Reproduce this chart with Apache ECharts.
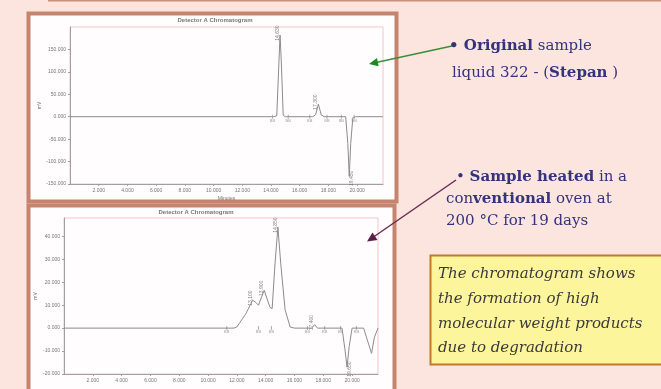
<!DOCTYPE html>
<html><head><meta charset="utf-8">
<script src="https://cdn.jsdelivr.net/npm/echarts@6/dist/echarts.min.js"></script>
<style>html,body{margin:0;padding:0;background:#fce5de;}#c{width:661px;height:389px;}</style>
</head><body><div id="c"></div>
<script>
// ---- data ----
const topTime   = [0, 14.2, 14.4, 14.55, 14.63, 14.72, 14.85, 15.0, 16.9, 17.1, 17.3, 17.5, 17.7, 19.2, 19.35, 19.45, 19.55, 19.7, 19.9, 21.8];
const topSignal = [0, 0, 2, 120, 182, 120, 3, 0, 0, 4, 28, 4, 0, 0, -60, -133, -60, -2, 0, 0];
const botTime   = [0, 11.8, 12.0, 12.6, 13.1, 13.35, 13.5, 13.9, 14.3, 14.45, 14.65, 14.85, 15.05, 15.35, 15.7, 16.0, 17.2, 17.4, 17.6, 19.3, 19.5, 19.65, 19.8, 20.0, 20.8, 21.1, 21.35, 21.55, 21.8];
const botSignal = [0, 0, 0.5, 6, 12.2, 11, 10, 16.5, 9, 8.5, 28, 44, 28, 8, 0.5, 0, 0, 1.5, 0, 0, -9, -17, -8, 0, 0, -6, -11, -4, 0];
const topPeakTimes  = [14.63, 17.3, 19.45];
const topPeakValues = [182, 28, -133];
const botPeakTimes  = [13.1, 13.9, 14.85, 17.4, 19.65];
const botPeakValues = [12.2, 16.5, 44, 1.5, -17];
const topMarkTimes = [14.1, 15.2, 16.7, 17.9, 18.9, 19.8];
const botMarkTimes = [11.3, 13.5, 14.4, 16.9, 18.1, 19.2, 20.3];
const topYTicks = [-150, -100, -50, 0, 50, 100, 150];
const botYTicks = [-20, -10, 0, 10, 20, 30, 40];
const xTicks = [2, 4, 6, 8, 10, 12, 14, 16, 18, 20];
const chartTitle = 'Detector A Chromatogram';

const zip = (a, b) => a.map((v, i) => [v, b[i]]);
const gray = '#8c8c8c';
const lab = {fontSize: 5, color: '#777', fontFamily: 'Liberation Sans'};

function xAxis(g, showName) {
  return {gridIndex: g, type: 'value', min: 0, max: 21.8, interval: xTicks[1] - xTicks[0],
    axisLine: {onZero: false, lineStyle: {color: '#a0a0a0'}},
    axisTick: {length: 2, lineStyle: {color: '#a0a0a0'}},
    axisLabel: Object.assign({margin: 4, showMinLabel: false, showMaxLabel: false, formatter: v => v.toFixed(3)}, lab),
    splitLine: {show: false},
    name: showName ? 'Minutes' : '', nameLocation: 'middle', nameGap: 12, nameTextStyle: lab};
}
function yAxis(g, ticks, max, gap) {
  return {gridIndex: g, type: 'value', min: ticks[0], max: max, interval: ticks[1] - ticks[0],
    axisLine: {show: true, onZero: false, lineStyle: {color: '#a0a0a0'}},
    axisTick: {show: true, length: 2, lineStyle: {color: '#a0a0a0'}},
    axisLabel: Object.assign({margin: 4, showMaxLabel: false, formatter: v => v.toFixed(3)}, lab),
    splitLine: {show: false},
    name: 'mV', nameLocation: 'middle', nameGap: gap, nameRotate: 90, nameTextStyle: lab};
}
function peakSeries(g, times, vals) {
  return {type: 'scatter', xAxisIndex: g, yAxisIndex: g, symbolSize: 0, silent: true,
    data: times.map((t, i) => ({value: [t, vals[i]], label: {position: vals[i] >= 0 ? 'top' : 'bottom'}})),
    label: {show: true, rotate: 90, fontSize: 5, color: '#666', distance: 2, formatter: p => p.value[0].toFixed(3)}};
}
function markSeries(g, times) {
  return {type: 'scatter', xAxisIndex: g, yAxisIndex: g, symbol: 'rect', symbolSize: [1, 4], silent: true,
    itemStyle: {color: '#999'}, data: times.map(t => [t, 0]),
    label: {show: true, position: 'bottom', distance: 0, fontSize: 4, color: '#888', formatter: 'BB'}};
}

const chart = echarts.init(document.getElementById('c'), null, {renderer: 'canvas'});
const frame = '#c4846e';
const navy = '#33337e';
const serif = 'DejaVu Serif';
const fs = 15;
const boldRich = {b: {fontWeight: 'bold', fontSize: fs, fill: navy, fontFamily: serif}};
chart.setOption({
  animation: false,
  backgroundColor: '#fce5de',
  grid: [
    {left: 70, right: 278, top: 27, bottom: 205, show: true, borderColor: '#f2c6cc', borderWidth: 1, backgroundColor: 'transparent'},
    {left: 64, right: 283, top: 218, bottom: 15, show: true, borderColor: '#f2c6cc', borderWidth: 1, backgroundColor: 'transparent'}
  ],
  xAxis: [xAxis(0, true), xAxis(1, false)],
  yAxis: [yAxis(0, topYTicks, 200, 26), yAxis(1, botYTicks, 48, 26)],
  series: [
    {type: 'line', xAxisIndex: 0, yAxisIndex: 0, data: zip(topTime, topSignal), showSymbol: false, lineStyle: {color: gray, width: 1}},
    {type: 'line', xAxisIndex: 1, yAxisIndex: 1, data: zip(botTime, botSignal), showSymbol: false, lineStyle: {color: gray, width: 1}},
    peakSeries(0, topPeakTimes, topPeakValues),
    peakSeries(1, botPeakTimes, botPeakValues),
    markSeries(0, topMarkTimes),
    markSeries(1, botMarkTimes)
  ],
  graphic: [
    {type: 'line', z: -10, shape: {x1: 48, y1: 0.5, x2: 661, y2: 0.5}, style: {stroke: '#c8907a', lineWidth: 2}},
    {type: 'rect', z: -10, shape: {x: 28.5, y: 13.5, width: 368, height: 188}, style: {fill: '#fffdfd', stroke: frame, lineWidth: 4}},
    {type: 'rect', z: -10, shape: {x: 28.5, y: 205.5, width: 366, height: 200}, style: {fill: '#fffdfd', stroke: frame, lineWidth: 4}},
    {type: 'text', x: 215, y: 20, style: {text: chartTitle, fontSize: 6, fontWeight: 'bold', fill: '#777', align: 'center', verticalAlign: 'middle', fontFamily: 'Liberation Sans'}},
    {type: 'text', x: 196, y: 212, style: {text: chartTitle, fontSize: 6, fontWeight: 'bold', fill: '#777', align: 'center', verticalAlign: 'middle', fontFamily: 'Liberation Sans'}},
    // green arrow
    {type: 'line', shape: {x1: 452, y1: 46, x2: 376, y2: 62.5}, style: {stroke: '#3c8c3c', lineWidth: 1.5}},
    {type: 'polygon', shape: {points: [[369, 64], [378.6, 66.3], [377, 58]]}, style: {fill: '#1e8a1e'}},
    // purple arrow
    {type: 'line', shape: {x1: 456, y1: 180, x2: 372, y2: 238}, style: {stroke: '#6a2a58', lineWidth: 1.5}},
    {type: 'polygon', shape: {points: [[367, 241.5], [377.5, 240], [372.5, 232.5]]}, style: {fill: '#5a1e48'}},
    // right texts
    {type: 'text', x: 449, y: 46, style: {text: '{b|• Original} sample', fontSize: fs, fill: navy, fontFamily: serif, verticalAlign: 'middle', rich: boldRich}},
    {type: 'text', x: 452, y: 73, style: {text: 'liquid 322 - ({b|Stepan} )', fontSize: fs, fill: navy, fontFamily: serif, verticalAlign: 'middle', rich: boldRich}},
    {type: 'text', x: 456, y: 177, style: {text: '• {b|Sample heated} in a', fontSize: fs, fill: navy, fontFamily: serif, verticalAlign: 'middle', rich: boldRich}},
    {type: 'text', x: 446, y: 199, style: {text: 'con{b|ventional} oven at', fontSize: fs, fill: navy, fontFamily: serif, verticalAlign: 'middle', rich: boldRich}},
    {type: 'text', x: 446, y: 221, style: {text: '200 °C for 19 days', fontSize: fs, fill: navy, fontFamily: serif, verticalAlign: 'middle'}},
    // yellow box
    {type: 'rect', z: -5, shape: {x: 430.5, y: 255.5, width: 240, height: 109}, style: {fill: '#fcf59c', stroke: '#c27a2a', lineWidth: 2}},
    {type: 'text', x: 438, y: 274, style: {text: 'The chromatogram shows', fontSize: fs, fontStyle: 'italic', fill: '#3a3a3a', fontFamily: serif, verticalAlign: 'middle'}},
    {type: 'text', x: 438, y: 299, style: {text: 'the formation of high', fontSize: fs, fontStyle: 'italic', fill: '#3a3a3a', fontFamily: serif, verticalAlign: 'middle'}},
    {type: 'text', x: 438, y: 324, style: {text: 'molecular weight products', fontSize: fs, fontStyle: 'italic', fill: '#3a3a3a', fontFamily: serif, verticalAlign: 'middle'}},
    {type: 'text', x: 438, y: 348, style: {text: 'due to degradation', fontSize: fs, fontStyle: 'italic', fill: '#3a3a3a', fontFamily: serif, verticalAlign: 'middle'}}
  ]
});
</script></body></html>
